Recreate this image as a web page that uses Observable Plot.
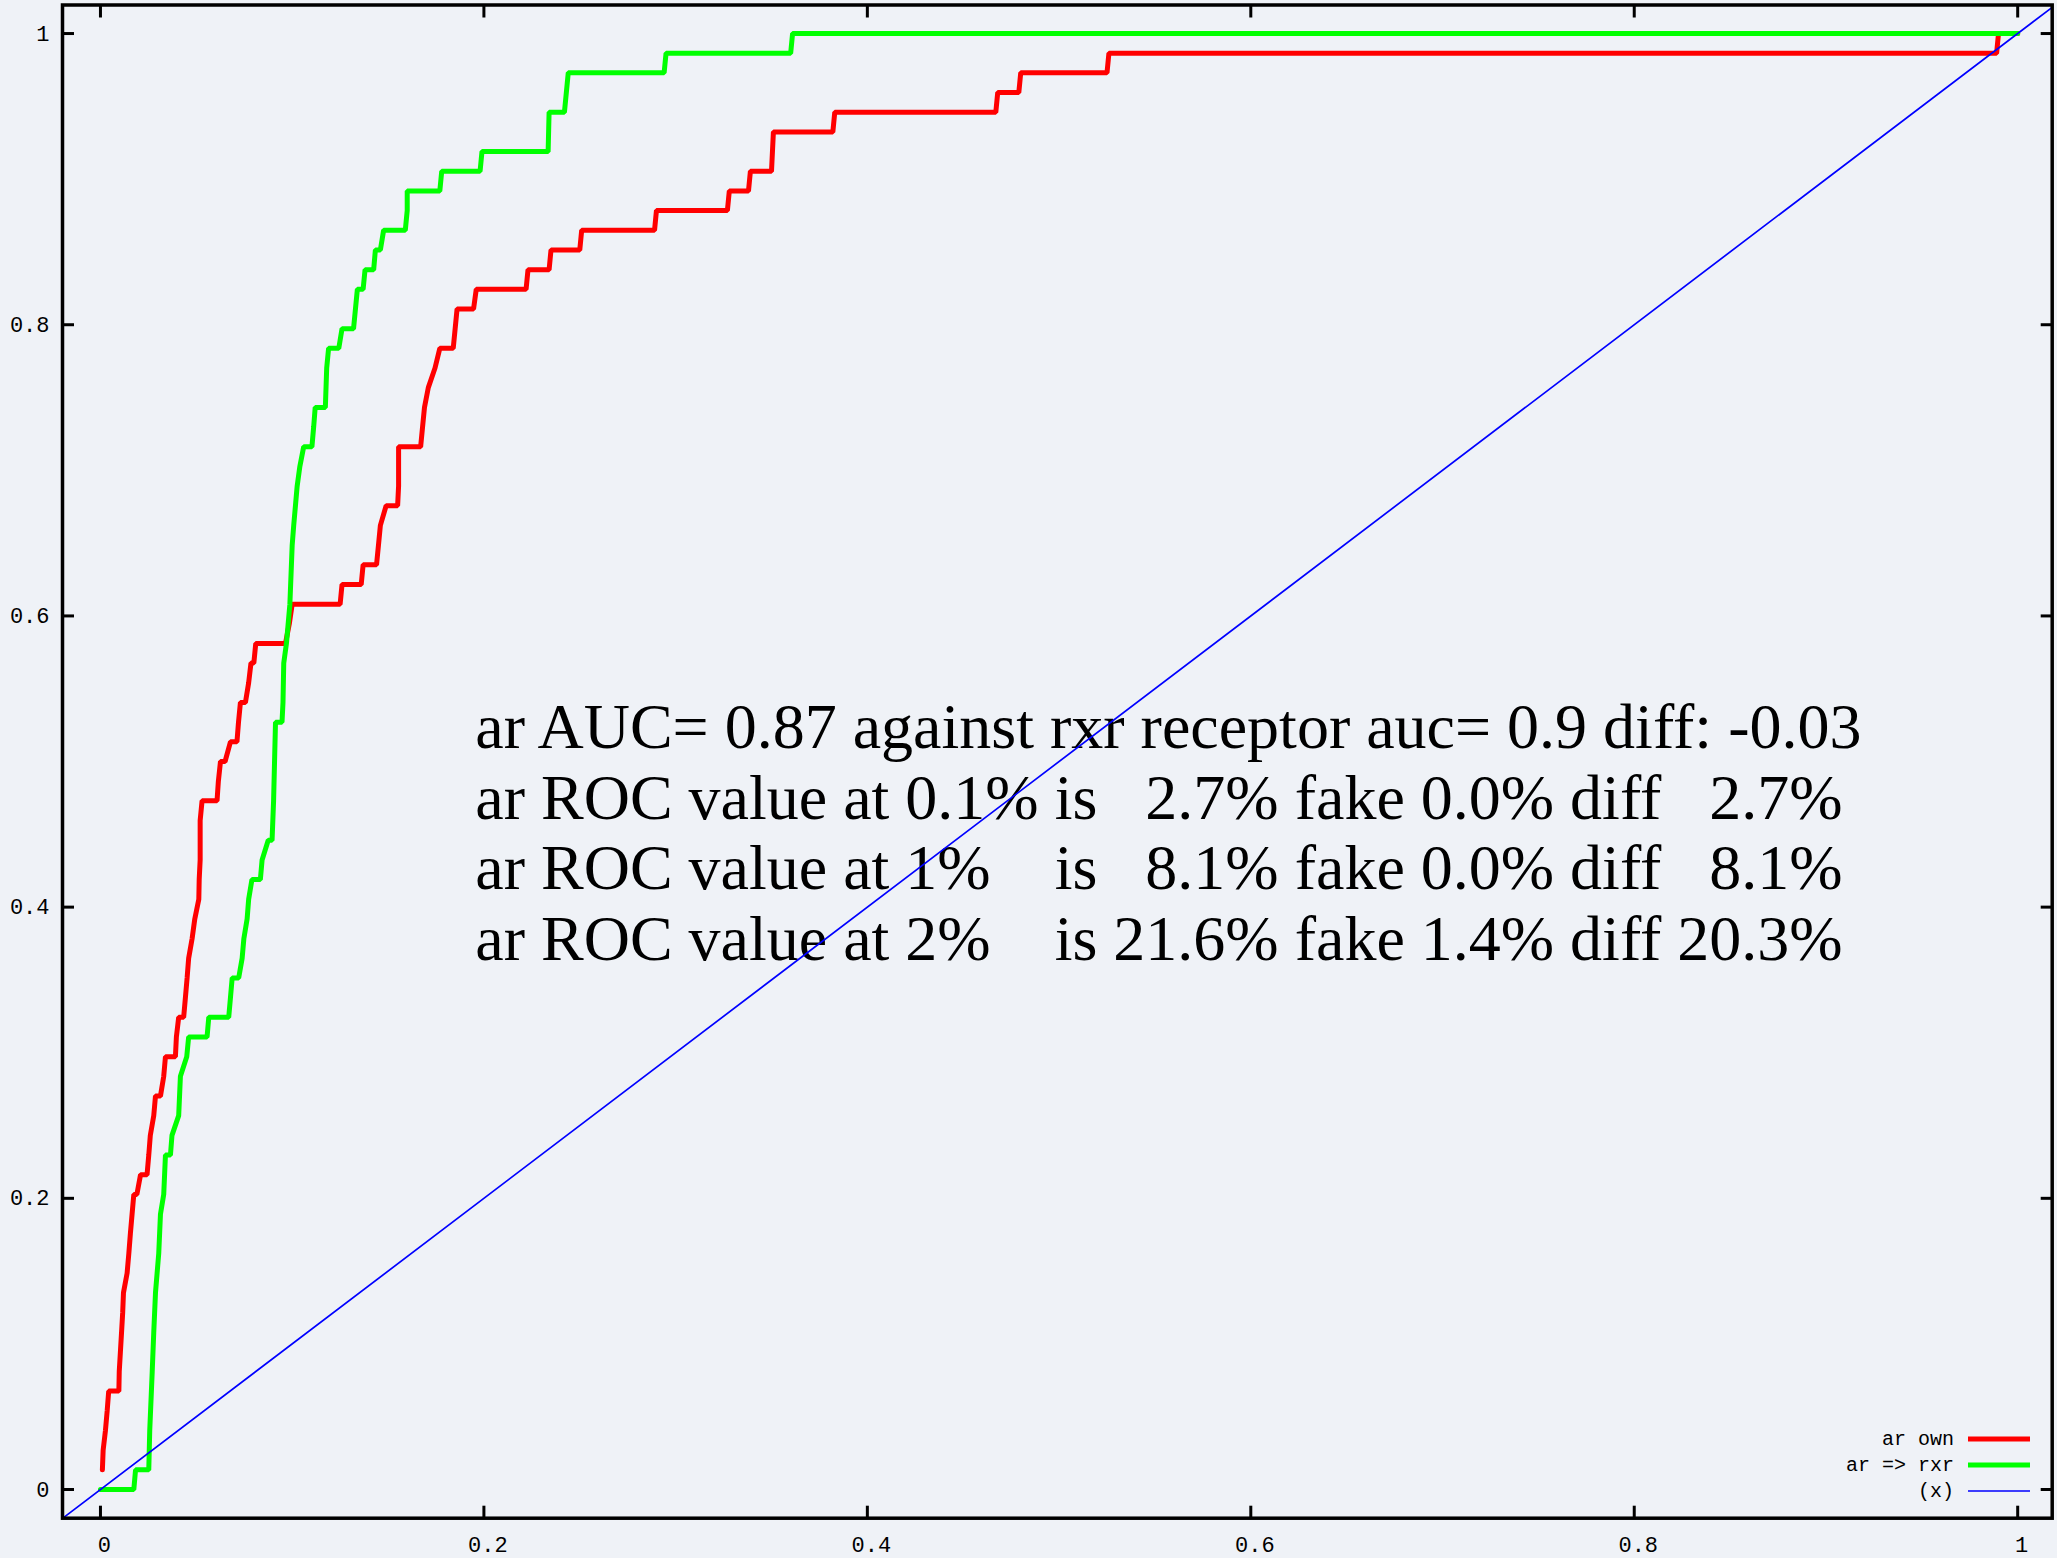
<!DOCTYPE html>
<html>
<head>
<meta charset="utf-8">
<script src="https://cdn.jsdelivr.net/npm/d3@7"></script>
<script src="https://cdn.jsdelivr.net/npm/@observablehq/plot@0.6"></script>
<style>
html, body { margin: 0; padding: 0; background: #eff2f7; }
#chart { position: relative; width: 2057px; height: 1558px; }
svg text { white-space: pre; }
</style>
</head>
<body>
<div id="chart"></div>
<script>
// ---- Data ----
// "ar own" ROC curve (red)
const fprOwn = [0.001,0.0014,0.0026,0.0035,0.0043,0.0096,0.0098,0.0104,0.011,0.0116,0.012,0.0139,0.0148,0.0156,0.0165,0.0174,0.019,0.0209,0.0243,0.0252,0.026,0.0278,0.0287,0.0313,0.033,0.0339,0.0391,0.0396,0.0408,0.0434,0.0443,0.0452,0.046,0.0478,0.0492,0.0513,0.0515,0.052,0.052,0.053,0.0608,0.0615,0.0626,0.065,0.0678,0.0712,0.072,0.073,0.0756,0.0773,0.0785,0.08,0.081,0.0965,0.0985,0.1,0.125,0.126,0.136,0.137,0.144,0.145,0.146,0.149,0.155,0.1555,0.1555,0.1555,0.167,0.168,0.169,0.171,0.1745,0.177,0.184,0.185,0.186,0.1946,0.196,0.222,0.223,0.234,0.235,0.25,0.251,0.289,0.29,0.327,0.328,0.338,0.339,0.35,0.351,0.382,0.383,0.467,0.468,0.479,0.48,0.525,0.526,0.989,0.99,1.0];
const tprOwn = [0.0135,0.027,0.0405,0.054,0.0676,0.0676,0.0811,0.0946,0.108,0.1216,0.1351,0.1486,0.1622,0.1757,0.1892,0.2027,0.2027,0.2162,0.2162,0.2297,0.2432,0.2568,0.2703,0.2703,0.2838,0.2973,0.2973,0.3108,0.3243,0.3243,0.3378,0.3514,0.3649,0.3784,0.3919,0.4054,0.4189,0.4324,0.4595,0.473,0.473,0.4865,0.5,0.5,0.5135,0.5135,0.527,0.5405,0.5405,0.5541,0.5676,0.5676,0.5811,0.5811,0.5946,0.6081,0.6081,0.6216,0.6216,0.6351,0.6351,0.6486,0.6622,0.6757,0.6757,0.6892,0.7027,0.7162,0.7162,0.7297,0.7432,0.7568,0.7703,0.7838,0.7838,0.7973,0.8108,0.8108,0.8243,0.8243,0.8378,0.8378,0.8514,0.8514,0.8649,0.8649,0.8784,0.8784,0.8919,0.8919,0.9054,0.9054,0.9324,0.9324,0.9459,0.9459,0.9595,0.9595,0.973,0.973,0.9865,0.9865,1.0,1.0];

// "ar => rxr" ROC curve (green)
const fprRxr = [0,0.0174,0.0183,0.0252,0.0257,0.027,0.0278,0.0287,0.0304,0.0313,0.033,0.0339,0.0365,0.0373,0.0408,0.0417,0.045,0.046,0.0556,0.0565,0.0669,0.0678,0.0687,0.0695,0.0721,0.0739,0.0748,0.0765,0.0773,0.079,0.0834,0.0843,0.0875,0.0895,0.0903,0.0913,0.0947,0.0952,0.0956,0.097,0.0988,0.1,0.1008,0.1017,0.1026,0.104,0.106,0.1103,0.1112,0.112,0.1173,0.118,0.119,0.1243,0.126,0.132,0.133,0.134,0.137,0.138,0.1425,0.1434,0.146,0.1477,0.159,0.16,0.16,0.177,0.178,0.198,0.199,0.2335,0.234,0.242,0.244,0.294,0.295,0.36,0.361,1.0];
const tprRxr = [0,0,0.0135,0.0135,0.0405,0.0811,0.108,0.1351,0.1622,0.1892,0.2027,0.2297,0.2297,0.2432,0.2568,0.2838,0.2973,0.3108,0.3108,0.3243,0.3243,0.3378,0.3514,0.3514,0.3514,0.3649,0.3784,0.3919,0.4054,0.4189,0.4189,0.4324,0.4459,0.4459,0.473,0.527,0.527,0.5405,0.5676,0.5811,0.6081,0.6486,0.6622,0.6757,0.6892,0.7027,0.7162,0.7162,0.7297,0.7432,0.7432,0.7703,0.7838,0.7838,0.7973,0.7973,0.8108,0.8243,0.8243,0.8378,0.8378,0.8514,0.8514,0.8649,0.8649,0.8784,0.8919,0.8919,0.9054,0.9054,0.9189,0.9189,0.9459,0.9459,0.973,0.973,0.9865,0.9865,1.0,1.0];

// "(x)" reference diagonal
const diagX = [-0.02, 1.02];

const tickValues = [0, 0.2, 0.4, 0.6, 0.8, 1];
const tickLabels = ["0", "0.2", "0.4", "0.6", "0.8", "1"];

const annotationLines = [
  "ar AUC= 0.87 against rxr receptor auc= 0.9 diff: -0.03",
  "ar ROC value at 0.1% is   2.7% fake 0.0% diff   2.7%",
  "ar ROC value at 1%    is   8.1% fake 0.0% diff   8.1%",
  "ar ROC value at 2%    is 21.6% fake 1.4% diff 20.3%"
];

const legendLabels = ["ar own", "ar => rxr", "(x)"];
const legendColors = ["#ff0000", "#00ff00", "#0000ff"];
const legendWidths = [5, 5, 1.6];

// ---- Build tables ----
const own = fprOwn.map((x, i) => ({x, y: tprOwn[i]}));
const rxr = fprRxr.map((x, i) => ({x, y: tprRxr[i]}));
const diag = diagX.map(x => ({x, y: x}));
const fmt = d => tickLabels[tickValues.indexOf(d)];

const W = 2057, H = 1558;

const svg = Plot.plot({
  width: W,
  height: H,
  marginLeft: 62,
  marginRight: 5.3,
  marginTop: 4.5,
  marginBottom: 40.3,
  style: {background: "#eff2f7", fontFamily: "'Liberation Mono', monospace", fontSize: "22px", color: "#000"},
  x: {domain: [-0.0198, 1.018]},
  y: {domain: [-0.0197, 1.0196]},
  marks: [
    Plot.text([annotationLines.join("\n")], {
      x: () => 0.1955, y: () => 0.5436,
      text: d => d,
      textAnchor: "start", lineAnchor: "top", lineHeight: 1.1016,
      fontFamily: "'Liberation Serif', 'Times New Roman', serif",
      fontSize: 64, fill: "#000"
    }),
    Plot.line(own, {x: "x", y: "y", stroke: "#ff0000", strokeWidth: 5, strokeLinejoin: "miter"}),
    Plot.line(rxr, {x: "x", y: "y", stroke: "#00ff00", strokeWidth: 5, strokeLinejoin: "miter"}),
    Plot.line(diag, {x: "x", y: "y", stroke: "#0000ff", strokeWidth: 1.7, clip: true}),
    Plot.axisX({anchor: "bottom", ticks: tickValues, tickFormat: fmt, tickSize: 0, tickPadding: 18, dx: 4, label: null, fill: "#000"}),
    Plot.axisY({anchor: "left", ticks: tickValues, tickFormat: fmt, tickSize: 0, tickPadding: 13, label: null, fill: "#000"}),
    Plot.axisX({anchor: "bottom", ticks: tickValues, tickSize: -12, strokeWidth: 3, tickFormat: () => "", label: null}),
    Plot.axisX({anchor: "top", ticks: tickValues, tickSize: -12, strokeWidth: 3, tickFormat: () => "", label: null}),
    Plot.axisY({anchor: "left", ticks: tickValues, tickSize: -12, strokeWidth: 3, tickFormat: () => "", label: null}),
    Plot.axisY({anchor: "right", ticks: tickValues, tickSize: -12, strokeWidth: 3, tickFormat: () => "", label: null}),
    Plot.frame({stroke: "#000", strokeWidth: 3.5})
  ]
});

// Legend (inside plot, bottom-right)
const g = d3.select(svg).append("g")
  .attr("font-family", "'Liberation Mono', monospace")
  .attr("font-size", 20);
legendLabels.forEach((label, i) => {
  const cy = 1439 + 26 * i;
  g.append("text")
    .attr("x", 1954).attr("y", cy + 6)
    .attr("text-anchor", "end")
    .attr("fill", "#000")
    .text(label);
  g.append("line")
    .attr("x1", 1968).attr("x2", 2030)
    .attr("y1", cy).attr("y2", cy)
    .attr("stroke", legendColors[i])
    .attr("stroke-width", legendWidths[i]);
});

document.getElementById("chart").appendChild(svg);
</script>
</body>
</html>
